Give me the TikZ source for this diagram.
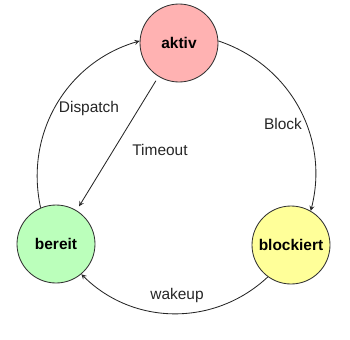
\documentclass[tikz,border=0pt]{standalone}
\usepackage{fontspec}
\setmainfont{Liberation Sans}
\begin{document}
\begin{tikzpicture}[
  state/.style={circle, draw=black!80, line width=0.6pt, minimum size=1.95cm,
    inner sep=0pt, font=\fontsize{11}{13}\selectfont\bfseries},
  arrow/.style={->, >=stealth, line width=0.6pt, black!85},
  lbl/.style={font=\fontsize{11}{13}\selectfont, text=black!85}
]
  \useasboundingbox (0,0) rectangle (8.75,8.475);
  \definecolor{aktivfill}{RGB}{255,178,178}
  \definecolor{bereitfill}{RGB}{187,255,187}
  \definecolor{blockfill}{RGB}{255,255,153}

  % The three process states
  \node[state, fill=aktivfill] (aktiv) at (4.475, 7.4) {aktiv};
  \node[state, fill=bereitfill] (bereit) at (1.4, 2.375) {bereit};
  \node[state, fill=blockfill] (blockiert) at (7.275, 2.35) {blockiert};

  % Transitions
  \draw[arrow] (bereit.113) to[bend left=43] (aktiv.177);
  \draw[arrow] (aktiv.3) to[bend left=43] (blockiert.60);
  \draw[arrow] (blockiert.234) to[bend left=44] (bereit.310);
  \draw[arrow, shorten <=0.12cm, shorten >=0.12cm] (aktiv) -- (bereit);

  % Transition labels
  \node[lbl] (dispatch) at (2.225, 5.775) {Dispatch};
  \node[lbl] (block) at (7.075, 5.375) {Block};
  \node[lbl] (timeout) at (4.0, 4.725) {Timeout};
  \node[lbl] (wakeup) at (4.425, 1.1) {wakeup};
\end{tikzpicture}
\end{document}
